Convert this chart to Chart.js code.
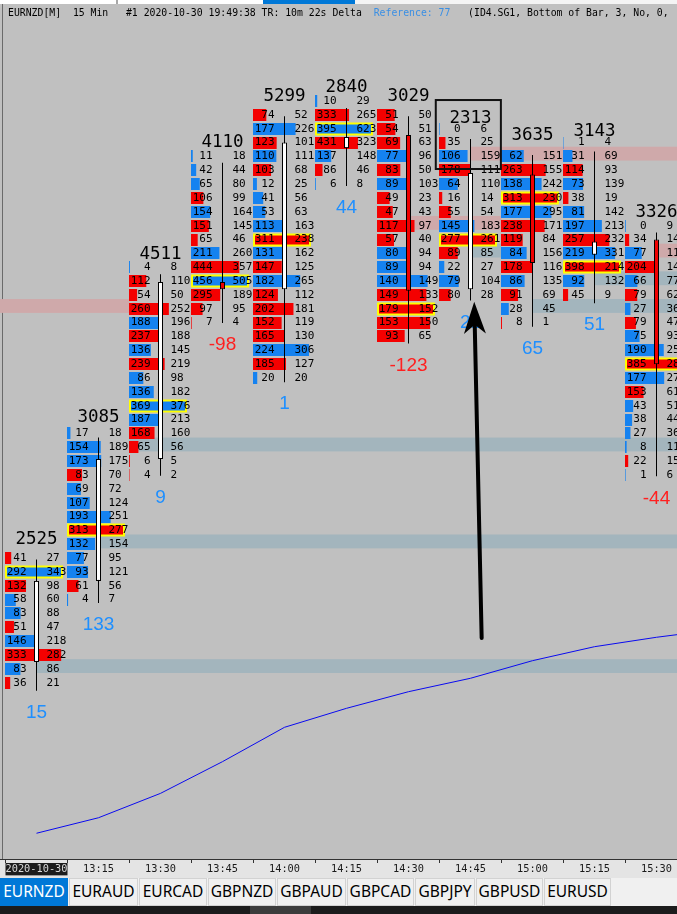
<!DOCTYPE html>
<html>
<head>
<meta charset="utf-8">
<title>EURNZD footprint</title>
<script src="https://cdn.jsdelivr.net/npm/chart.js@4.4.1/dist/chart.umd.min.js"></script>
<style>
  html, body { margin: 0; padding: 0; background: #c0c0c0; }
  #wrap { position: relative; width: 677px; height: 914px; overflow: hidden; }
  #chart { position: absolute; left: 0; top: 0; }
  #strip { position: absolute; left: 0; top: 0; width: 677px; height: 4px; background: #f4f4f4; }
  #strip i { position: absolute; top: 0; height: 4px; }
  #header { position: absolute; left: 8px; top: 6px; font: 9.8px "DejaVu Sans Mono", monospace; line-height: 14px; white-space: pre; color: #000; }
  #header span { color: #3a8fe4; }
  #tabs { position: absolute; left: 0; top: 878px; width: 677px; height: 28px; background: #f0f0f0; display: flex; }
  .tab { box-sizing: border-box; height: 28px; margin-right: 1px; border: 1px solid #d2d2d2; background: #f0f0f0;
         font: 15.5px "Noto Sans", sans-serif; line-height: 25px; text-align: center; color: #000; }
  .tab.on { background: #0078d7; border-color: #0078d7; color: #fff; }
  #foot { position: absolute; left: 0; top: 906px; width: 677px; height: 8px; background: #1c1c1c; }
  #foot i { position: absolute; left: 250px; top: 0; width: 61px; height: 8px; background: #3c3c3c; }
</style>
</head>
<body>
<div id="wrap">
  <canvas id="chart" width="677" height="878"></canvas>
  <div id="strip">
    <i style="left:0;width:116px;background:#fff"></i>
    <i style="left:116px;width:2px;background:#a8a8a8"></i>
    <i style="left:118px;width:145px;background:#fff"></i>
    <i style="left:263px;width:92px;background:#0078d7"></i>
  </div>
  <div id="header">EURNZD[M]  15 Min   #1 2020-10-30 19:49:38 TR: 10m 22s Delta  <span>Reference: 77</span>   (ID4.SG1, Bottom of Bar, 3, No, 0,</div>
  <div id="tabs"></div>
  <div id="foot"><i></i></div>
</div>
<script>
/* Datos: una columna por vela de 15 min */
var timeLabels = ["2020-10-30", "13:15", "13:30", "13:45", "14:00", "14:15", "14:30", "14:45", "15:00", "15:15", "15:30"];

// nivel (en filas) de la fila superior de cada columna
var rowTop = [9, 18, 30, 38, 41, 42, 41, 40, 38, 39, 33];

// bid / ask por fila, de arriba hacia abajo
var bids = [
  [41, 292, 132, 58, 83, 51, 146, 333, 83, 36],
  [17, 154, 173, 83, 69, 107, 193, 313, 132, 77, 93, 61, 4],
  [4, 112, 54, 260, 188, 237, 136, 239, 86, 136, 369, 187, 168, 65, 6, 4],
  [11, 42, 65, 106, 154, 151, 65, 211, 444, 456, 295, 97, 7],
  [74, 177, 123, 110, 103, 12, 41, 53, 113, 311, 131, 147, 182, 124, 202, 152, 165, 224, 185, 20],
  [10, 333, 395, 431, 137, 86, 6],
  [51, 54, 69, 77, 83, 89, 49, 47, 117, 57, 80, 89, 140, 149, 179, 153, 93],
  [0, 35, 106, 178, 64, 16, 55, 145, 277, 89, 22, 79, 80],
  [62, 263, 138, 313, 177, 238, 119, 84, 178, 86, 91, 28, 8],
  [1, 31, 114, 73, 38, 81, 197, 257, 219, 398, 92, 45],
  [0, 34, 77, 204, 66, 79, 27, 79, 75, 190, 385, 177, 153, 43, 38, 27, 8, 22, 1]
];
var asks = [
  [27, 343, 98, 60, 88, 47, 218, 282, 86, 21],
  [18, 189, 175, 70, 72, 124, 251, 277, 154, 95, 121, 56, 7],
  [8, 110, 50, 252, 196, 188, 145, 219, 98, 182, 376, 213, 160, 56, 5, 2],
  [18, 44, 80, 99, 164, 145, 46, 260, 357, 505, 189, 95, 4],
  [52, 226, 101, 111, 68, 25, 56, 63, 163, 238, 162, 125, 265, 112, 181, 119, 130, 306, 127, 20],
  [29, 265, 623, 323, 148, 46, 8],
  [50, 51, 63, 96, 50, 103, 23, 43, 97, 40, 94, 94, 149, 133, 152, 150, 65],
  [6, 25, 159, 111, 110, 14, 54, 183, 261, 85, 27, 104, 28],
  [151, 155, 242, 230, 295, 171, 84, 156, 116, 135, 69, 45, 1],
  [4, 69, 93, 139, 19, 142, 213, 232, 331, 214, 132, 9],
  [9, 14, 116, 147, 77, 62, 36, 47, 93, 257, 284, 275, 61, 51, 44, 36, 11, 15, 6]
];

// velas (misma unidad: filas)
var opens  = [1.5, 7.35, 16.15, 28.93, 28.4, 38.6, 39.55, 28.4, 36.7, 30.9, 32.0];
var highs  = [8.9, 17.7, 29.5, 37.55, 40.9, 41.5, 40.9, 39.26, 38.1, 38.35, 32.5];
var lows   = [-0.58, 5.75, 14.95, 25.97, 21.7, 35.86, 24.5, 27.6, 25.7, 27.4, 14.9];
var closes = [7.35, 16.15, 28.93, 28.4, 39.0, 39.4, 28.3, 36.8, 30.3, 31.85, 23.0];

// media movil (linea azul)
var maLine = [-10.87, -9.75, -7.99, -5.70, -3.22, -1.85, -0.65, 0.32, 1.59, 2.60, 3.28, 3.85];

// niveles marcados (bandas horizontales)
var bandLevels = [1.2, 10.2, 17.2, 27.2, 38.2, 33.2, 31.2, 29.2, 27.2, 31.2];
var bandStarts = [0, 1, 1.5, -1, 7, 6, 7, 9, 8, 10];
var bandEnds   = [11, 11, 11, 1.5, 11, 7.5, 7.5, 11, 11, 11];
var bandKinds  = ["gris", "gris", "gris", "rosa", "rosa", "rosa", "gris", "gris", "gris", "rosa"];

// dibujos del usuario: flecha y recuadro
var arrowFrom = [7.18, 3.23];
var arrowTo   = [7.06, 27.5];
var boxX = [6.44, 7.49];
var boxY = [42.07, 37.09];

var tabNames = ["EURNZD", "EURAUD", "EURCAD", "GBPNZD", "GBPAUD", "GBPCAD", "GBPJPY", "GBPUSD", "EURUSD"];
var tabWidths = [68, 69, 68, 68, 69, 67, 60, 67, 67];

/* Pestañas */
var tabs = document.getElementById("tabs");
tabNames.forEach(function (n, i) {
  var d = document.createElement("div");
  d.className = "tab" + (i === 0 ? " on" : "");
  d.style.width = tabWidths[i] + "px";
  d.textContent = n;
  tabs.appendChild(d);
});

var ROJO = "#f40000";
var AZUL = "#1582f0";

var totals = bids.map(function (col, i) {
  return col.reduce(function (s, b, r) { return s + b + asks[i][r]; }, 0);
});
var deltas = bids.map(function (col, i) {
  return col.reduce(function (s, b, r) { return s + asks[i][r] - b; }, 0);
});

var footprint = {
  id: "footprint",
  beforeDraw: function (chart) {
    var c = chart.ctx, a = chart.chartArea;
    c.save();
    c.fillStyle = "#e4e4e4";
    c.fillRect(0, 0, chart.width, chart.height);
    c.fillStyle = "#c0c0c0";
    c.fillRect(a.left, a.top, a.right - a.left, a.bottom - a.top);
    c.fillStyle = "#6a6a6a";
    c.fillRect(2, a.top, 1, a.bottom - a.top);
    c.restore();
  },
  beforeDatasetsDraw: function (chart) {
    var c = chart.ctx, a = chart.chartArea;
    var xs = chart.scales.x, ys = chart.scales.y;
    var colW = xs.getPixelForValue(1) - xs.getPixelForValue(0);
    var barMax = colW - 4;

    c.save();
    c.beginPath();
    c.rect(a.left, a.top, a.right - a.left, a.bottom - a.top);
    c.clip();

    // bandas
    bandLevels.forEach(function (lv, i) {
      var y1 = ys.getPixelForValue(lv + 0.5), y2 = ys.getPixelForValue(lv - 0.5);
      var x1 = xs.getPixelForValue(bandStarts[i]), x2 = xs.getPixelForValue(bandEnds[i]);
      c.fillStyle = bandKinds[i] === "rosa" ? "#cfa9aa" : "#a3b5bd";
      c.fillRect(x1, y1, x2 - x1, y2 - y1);
    });

    // celdas bid x ask
    bids.forEach(function (col, ci) {
      var xc = xs.getPixelForValue(ci);
      var x0 = Math.floor(xc - colW / 2);
      var tot = col.map(function (b, r) { return b + asks[ci][r]; });
      var maxTot = Math.max.apply(null, tot);

      col.forEach(function (b, r) {
        var ask = asks[ci][r];
        var yt = Math.round(ys.getPixelForValue(rowTop[ci] - r) - 6);
        c.fillStyle = ask >= b ? AZUL : ROJO;
        c.fillRect(x0, yt, barMax * tot[r] / maxTot, 12);
        if (tot[r] === maxTot) {
          c.strokeStyle = "#ffff00";
          c.lineWidth = 2;
          c.strokeRect(x0 + 1, yt + 0.5, barMax - 2, 11);
        }
      });

      c.font = '11px "DejaVu Sans Mono"';
      c.fillStyle = "#000";
      c.textBaseline = "middle";
      col.forEach(function (b, r) {
        var yc = ys.getPixelForValue(rowTop[ci] - r);
        c.textAlign = "right";
        c.fillText(String(b), xc - 10, yc);
        c.textAlign = "left";
        c.fillText(String(asks[ci][r]), xc + 10, yc);
      });

      // total arriba, delta abajo
      c.textAlign = "center";
      c.font = '17.5px "DejaVu Sans Mono"';
      c.fillStyle = "#000";
      c.fillText(String(totals[ci]), xc, ys.getPixelForValue(highs[ci]) - 20);
      c.font = '19px "Liberation Sans"';
      c.fillStyle = deltas[ci] < 0 ? "#ff1f1f" : "#1e8fff";
      c.fillText(String(deltas[ci]), xc, ys.getPixelForValue(lows[ci]) + 22);
    });
    c.restore();
  },
  afterDatasetsDraw: function (chart) {
    var c = chart.ctx;
    var xs = chart.scales.x, ys = chart.scales.y;

    // recuadro
    var bx1 = xs.getPixelForValue(boxX[0]), bx2 = xs.getPixelForValue(boxX[1]);
    var by1 = ys.getPixelForValue(boxY[0]), by2 = ys.getPixelForValue(boxY[1]);
    c.save();
    c.strokeStyle = "#111";
    c.lineWidth = 2;
    c.strokeRect(bx1, by1, bx2 - bx1, by2 - by1);

    // flecha
    var fx = xs.getPixelForValue(arrowFrom[0]), fy = ys.getPixelForValue(arrowFrom[1]);
    var tx = xs.getPixelForValue(arrowTo[0]), ty = ys.getPixelForValue(arrowTo[1]);
    var ang = Math.atan2(ty - fy, tx - fx);
    var head = 32, half = 11;
    var bxh = tx - head * Math.cos(ang), byh = ty - head * Math.sin(ang);
    c.strokeStyle = "#000";
    c.lineWidth = 4;
    c.lineCap = "round";
    c.beginPath();
    c.moveTo(fx, fy);
    c.lineTo(bxh + 8 * Math.cos(ang), byh + 8 * Math.sin(ang));
    c.stroke();
    c.fillStyle = "#000";
    c.beginPath();
    c.moveTo(tx, ty);
    c.lineTo(bxh + half * Math.sin(ang), byh - half * Math.cos(ang));
    c.lineTo(bxh + 9 * Math.cos(ang), byh + 9 * Math.sin(ang));
    c.lineTo(bxh - half * Math.sin(ang), byh + half * Math.cos(ang));
    c.closePath();
    c.fill();
    c.restore();
  }
};

// escala: centro de columna 0 en x=36.5, 62 px por columna; fila 0 en y=682.7, 13.85 px por fila
var xMin = -36.5 / 62, xMax = xMin + 677 / 62;
var yMax = 682.7 / 13.85, yMin = -(859 - 682.7) / 13.85;

var ctx = document.getElementById("chart").getContext("2d");
new Chart(ctx, {
  type: "bar",
  data: {
    datasets: [{
      label: "cuerpo",
      data: opens.map(function (o, i) { return { x: i, y: [o, closes[i]] }; }),
      backgroundColor: opens.map(function (o, i) { return closes[i] >= o ? "#ffffff" : "#f00000"; }),
      borderColor: "#000",
      borderWidth: 1,
      borderSkipped: false,
      barThickness: 5,
      grouped: false,
      inflateAmount: 0
    }, {
      label: "mecha",
      data: highs.map(function (h, i) { return { x: i, y: [lows[i], h] }; }),
      backgroundColor: "#000",
      borderWidth: 0,
      barThickness: 1,
      grouped: false,
      inflateAmount: 0
    }, {
      type: "line",
      label: "media",
      data: maLine.map(function (v, i) { return { x: i, y: v }; }),
      borderColor: "#0a0af0",
      borderWidth: 1,
      pointRadius: 0,
      tension: 0,
      fill: false
    }]
  },
  options: {
    responsive: false,
    animation: false,
    events: [],
    layout: { padding: 0 },
    plugins: {
      legend: { display: false },
      tooltip: { enabled: false }
    },
    scales: {
      x: {
        type: "linear",
        min: xMin,
        max: xMax,
        offset: false,
        afterBuildTicks: function (s) { s.ticks = timeLabels.map(function (_, i) { return { value: i }; }); },
        afterFit: function (s) { s.height = 19; },
        grid: { drawOnChartArea: false, drawTicks: true, tickLength: 4, color: "#333", lineWidth: 1 },
        border: { display: true, color: "#333", width: 1 },
        ticks: {
          autoSkip: false,
          maxRotation: 0,
          padding: 0,
          font: { family: "DejaVu Sans Mono", size: 10.3 },
          color: function (c) { return c.index === 0 ? "#d8d8d8" : "#1a1a1a"; },
          showLabelBackdrop: function (c) { return c.index === 0; },
          backdropColor: "#1c1c1c",
          backdropPadding: 0,
          callback: function (v, i) { return timeLabels[i]; }
        }
      },
      y: {
        display: false,
        min: yMin,
        max: yMax
      }
    }
  },
  plugins: [footprint]
});
</script>
</body>
</html>
